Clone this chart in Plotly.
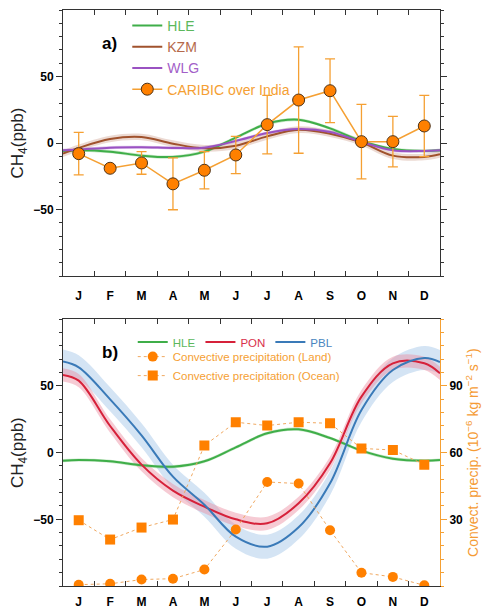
import plotly.graph_objects as go

# ---------------- data ----------------
MONTHS = ['J', 'F', 'M', 'A', 'M', 'J', 'J', 'A', 'S', 'O', 'N', 'D']
MONTH_POS = [0.5, 1.5, 2.5, 3.5, 4.5, 5.5, 6.5, 7.5, 8.5, 9.5, 10.5, 11.5]
MONTH_EDGES = [0, 1, 2, 3, 4, 5, 6, 7, 8, 9, 10, 11, 12]
CURVE_POS = [0, 0.5, 1.5, 2.5, 3.5, 4.5, 5.5, 6.5, 7.5, 8.5, 9.5, 10.5, 11.5, 12]

# panel a (ppb), fitted seasonal cycles
HLE = [-6, -5.5, -6.5, -9.5, -10.5, -6.5, 4, 14.5, 17.5, 11, 1.5, -4.5, -6, -5.5]
HLE_UNC = 1.2
KZM = [-8, -3.7, 3, 4.5, -0.5, -4, -2, 5, 10, 7, 0.5, -9.5, -10.5, -8.5]
KZM_UNC = 2.5
WLG = [-5.5, -5, -3.5, -3.2, -3.7, -3.5, 1.5, 7.5, 10.5, 8.3, 0.8, -5.5, -6, -5.5]
WLG_UNC = 1.2
CARIBIC = [-8, -19, -15, -30.7, -20.5, -9, 13.8, 32.3, 39.3, 1, 1, 12.8]
CARIBIC_ERR = [16, 0, 8.5, 19.5, 14, 14, 22, 40, 24, 28, 19, 23]

# panel b (ppb)
PON = [58.3, 54, 20, -9, -28.5, -40.5, -50, -53, -38, -8, 42, 67, 67, 59.5]
PON_UNC = 5
PBL = [68.3, 64, 40, 13, -18, -39, -63, -70.5, -56, -23, 32, 62, 71, 68]
PBL_UNC = 9
# convective precipitation (1e-6 kg m-2 s-1)
PRECIP_LAND = [0.6, 1.0, 2.9, 3.3, 7.4, 25.4, 46.8, 46.1, 25.1, 6.0, 4.1, 0.3]
PRECIP_OCEAN = [29.6, 20.9, 26.3, 29.9, 63.2, 73.7, 72.2, 73.7, 73.2, 61.9, 61.2, 54.6]

CH4_TICKS = [-50, 0, 50]
CH4_RANGE = [-100, 100]
PRECIP_TICKS = [30, 60, 90]
PRECIP_RANGE = [0, 120]

# ---------------- style ----------------
FONT = 'Liberation Sans, Arial, sans-serif'
C_HLE, T_HLE = '#3fae49', '#5cb85c'
C_KZM, T_KZM = '#a0522d', '#b5694a'
C_WLG, T_WLG = '#9a52c2', '#a35fc8'
C_ORANGE_LINE = '#f5a033'
C_ORANGE = '#ff8000'
C_PON, T_PON = '#d6213a', '#d9304a'
C_PBL, T_PBL = '#3a7ab8', '#4a86c0'
AX = '#333333'

fig = go.Figure()


def band(y, unc, color, xa, ya):
    up = [v + unc for v in y]
    lo = [v - unc for v in y]
    fig.add_trace(go.Scatter(x=CURVE_POS, y=up, mode='lines', line=dict(width=0, shape='spline'),
                             showlegend=False, hoverinfo='skip', xaxis=xa, yaxis=ya))
    fig.add_trace(go.Scatter(x=CURVE_POS, y=lo, mode='lines', line=dict(width=0, shape='spline'),
                             fill='tonexty', fillcolor=color, showlegend=False, hoverinfo='skip',
                             xaxis=xa, yaxis=ya))


def curve(y, color, name, xa, ya, legend, show=True):
    fig.add_trace(go.Scatter(x=CURVE_POS, y=y, mode='lines', name=name,
                             line=dict(color=color, width=2, shape='spline'),
                             showlegend=show, legend=legend, xaxis=xa, yaxis=ya))


# panel a
band(KZM, KZM_UNC, 'rgba(200,150,130,0.35)', 'x', 'y')
band(WLG, WLG_UNC, 'rgba(170,110,210,0.35)', 'x', 'y')
band(HLE, HLE_UNC, 'rgba(100,190,100,0.35)', 'x', 'y')
curve(HLE, C_HLE, '<span style="color:%s">HLE</span>' % T_HLE, 'x', 'y', 'legend')
curve(KZM, C_KZM, '<span style="color:%s">KZM</span>' % T_KZM, 'x', 'y', 'legend')
curve(WLG, C_WLG, '<span style="color:%s">WLG</span>' % T_WLG, 'x', 'y', 'legend')
fig.add_trace(go.Scatter(
    x=MONTH_POS, y=CARIBIC, mode='lines+markers',
    name='<span style="color:%s">CARIBIC over India</span>' % C_ORANGE_LINE,
    line=dict(color=C_ORANGE_LINE, width=1.5),
    marker=dict(color=C_ORANGE, size=12, line=dict(color='#4d3319', width=1)),
    error_y=dict(type='data', array=CARIBIC_ERR, color=C_ORANGE_LINE, thickness=1.3, width=5),
    legend='legend', xaxis='x', yaxis='y'))

# panel b
band(PBL, PBL_UNC, 'rgba(160,195,230,0.45)', 'x2', 'y2')
band(PON, PON_UNC, 'rgba(235,140,160,0.45)', 'x2', 'y2')
band(HLE, HLE_UNC, 'rgba(100,190,100,0.35)', 'x2', 'y2')
curve(HLE, C_HLE, '<span style="color:%s">HLE</span>' % T_HLE, 'x2', 'y2', 'legend2')
curve(PON, C_PON, '<span style="color:%s">PON</span>' % T_PON, 'x2', 'y2', 'legend2')
curve(PBL, C_PBL, '<span style="color:%s">PBL</span>' % T_PBL, 'x2', 'y2', 'legend2')
fig.add_trace(go.Scatter(
    x=MONTH_POS, y=PRECIP_LAND, mode='lines+markers',
    name='<span style="color:%s">Convective precipitation (Land)</span>' % C_ORANGE_LINE,
    line=dict(color='#f0a860', width=1, dash='dot'),
    marker=dict(color=C_ORANGE, size=10, symbol='circle'),
    legend='legend3', xaxis='x2', yaxis='y3'))
fig.add_trace(go.Scatter(
    x=MONTH_POS, y=PRECIP_OCEAN, mode='lines+markers',
    name='<span style="color:%s">Convective precipitation (Ocean)</span>' % C_ORANGE_LINE,
    line=dict(color='#f0a860', width=1, dash='dot'),
    marker=dict(color=C_ORANGE, size=10, symbol='square'),
    legend='legend3', xaxis='x2', yaxis='y3'))

tickfont = dict(family=FONT, size=12, color='black', weight='bold')

month_axis = dict(range=[0, 12], tickvals=MONTH_POS, ticktext=MONTHS, ticks='inside',
                  ticklen=0, tickcolor=AX, tickfont=tickfont, ticklabelstandoff=9,
                  minor=dict(tickvals=MONTH_EDGES, ticks='inside', ticklen=5, tickcolor=AX,
                             showgrid=False),
                  showline=True, linecolor=AX, linewidth=1,
                  mirror='ticks', showgrid=False, zeroline=False, automargin=False)
ch4_axis = dict(range=CH4_RANGE, tickvals=CH4_TICKS, ticks='outside', ticklen=6, tickcolor=AX,
                minor=dict(dtick=10, tick0=0, ticks='outside', ticklen=3, tickcolor=AX,
                           showgrid=False),
                showline=True, linecolor=AX, linewidth=1, showgrid=False, zeroline=False,
                tickfont=tickfont, automargin=False,
                title=dict(text='CH<sub>4</sub>(ppb)', font=dict(family=FONT, size=17, color='#222'),
                           standoff=8))

# the page body adds an 8 px offset, so the figure is 8 px smaller each way
fig.update_layout(
    width=487, height=601, template='none',
    paper_bgcolor='white', plot_bgcolor='white',
    margin=dict(l=55, r=55, t=2, b=23),
    font=dict(family=FONT),
    xaxis=dict(month_axis, domain=[0, 1], anchor='y'),
    xaxis2=dict(month_axis, domain=[0, 1], anchor='y2', ticklabelstandoff=5),
    yaxis=dict(ch4_axis, domain=[0.5382, 1], anchor='x', mirror='ticks'),
    yaxis2=dict(ch4_axis, domain=[0, 0.463], anchor='x2', mirror=False),
    yaxis3=dict(range=PRECIP_RANGE, tickvals=PRECIP_TICKS, overlaying='y2', anchor='x2', side='right',
                ticks='outside', ticklen=6, tickcolor=C_ORANGE_LINE,
                minor=dict(dtick=6, tick0=0, ticks='outside', ticklen=3, tickcolor=C_ORANGE_LINE,
                           showgrid=False),
                showline=True, linecolor=C_ORANGE_LINE, linewidth=1, showgrid=False, zeroline=False,
                tickfont=tickfont, automargin=False,
                title=dict(text='Convect. precip. (10<sup>−6</sup> kg m<sup>−2</sup> s<sup>−1</sup>)',
                           font=dict(family=FONT, size=14, color='#f59b35'), standoff=4)),
    legend=dict(x=0.1705, y=1.0, xanchor='left', yanchor='top', bgcolor='rgba(0,0,0,0)',
                font=dict(family=FONT, size=14), itemwidth=30, traceorder='normal'),
    legend2=dict(x=0.185, y=0.4486, xanchor='left', yanchor='top', bgcolor='rgba(0,0,0,0)',
                 orientation='h', font=dict(family=FONT, size=11.5), itemwidth=30),
    legend3=dict(x=0.185, y=0.4234, xanchor='left', yanchor='top', bgcolor='rgba(0,0,0,0)',
                 font=dict(family=FONT, size=11.5), itemwidth=30, traceorder='normal'),
    annotations=[
        dict(text='a)', x=0.0992, y=0.9427, xref='paper', yref='paper', showarrow=False,
             xanchor='left', yanchor='middle',
             font=dict(family=FONT, size=17, color='black', weight='bold')),
        dict(text='b)', x=0.0992, y=0.405, xref='paper', yref='paper', showarrow=False,
             xanchor='left', yanchor='middle',
             font=dict(family=FONT, size=17, color='black', weight='bold')),
    ],
)

fig.write_html('out.html')
